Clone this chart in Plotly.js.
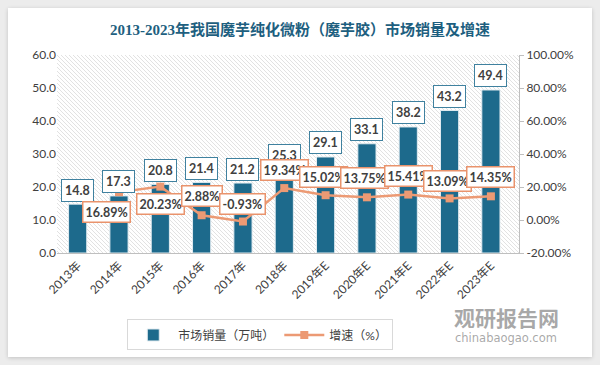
<!DOCTYPE html>
<html>
<head>
<meta charset="utf-8">
<script src="https://cdn.plot.ly/plotly-3.0.1.min.js"></script>
<style>
  html, body { margin: 0; padding: 0; background: #ececec; }
  #wrap { position: relative; width: 600px; height: 365px; overflow: hidden; }
  #card { position: absolute; left: 8px; top: 8px; width: 584px; height: 349px; background: #ffffff;
          box-shadow: 0 1px 4px rgba(0,0,0,0.18); }
  #chart { position: absolute; left: 0; top: 0; width: 600px; height: 365px; }
</style>
</head>
<body>
<div id="wrap">
  <div id="card"></div>
  <div id="chart"></div>
</div>
<script>
// ---- data ----
const years = ['2013年','2014年','2015年','2016年','2017年','2018年','2019年E','2020年E','2021年E','2022年E','2023年E'];
const sales = [14.8, 17.3, 20.8, 21.4, 21.2, 25.3, 29.1, 33.1, 38.2, 43.2, 49.4];
const growthYears = ['2014年','2015年','2016年','2017年','2018年','2019年E','2020年E','2021年E','2022年E','2023年E'];
const growth = [16.89, 20.23, 2.88, -0.93, 19.34, 15.02, 13.75, 15.41, 13.09, 14.35];
const leftTicks = [0, 10, 20, 30, 40, 50, 60];
const rightTicks = [-20, 0, 20, 40, 60, 80, 100];

// ---- label placement (pixels) ----
const growthShiftX = [-12, 0, 0, 0, 0, -2, -2, 0, -2, 0];
const growthShiftY = [-20, -17, 19, 18, 18, 18, 19, 19, 17, 19];

const BAR = '#1d6a8c';
const LINE = '#ec9a74';
const TXT = '#404040';
const FONT = 'Lato, "Noto Sans CJK SC", sans-serif';

const hatch = 'data:image/svg+xml;utf8,' + encodeURIComponent(
  '<svg xmlns="http://www.w3.org/2000/svg" width="462" height="198">' +
  '<defs><pattern id="p" width="4" height="4" patternUnits="userSpaceOnUse">' +
  '<path d="M-1,-1 L5,5" stroke="#e2e2e2" stroke-width="1"/>' +
  '<path d="M3,-1 L5,1 M-1,3 L1,5" stroke="#e2e2e2" stroke-width="1"/>' +
  '</pattern></defs><rect width="462" height="198" fill="url(#p)"/></svg>');

const traces = [
  {
    type: 'bar', x: years, y: sales, name: '市场销量（万吨）',
    marker: { color: BAR, line: { color: '#e3ecf1', width: 1 } },
    width: 0.44, yaxis: 'y', hoverinfo: 'skip'
  },
  {
    type: 'scatter', mode: 'lines+markers', x: growthYears, y: growth, name: '增速（%）',
    line: { color: LINE, width: 2.5 },
    marker: { symbol: 'square', size: 8, color: LINE },
    yaxis: 'y2', hoverinfo: 'skip'
  }
];

const annotations = [];
// watermark (drawn first, underneath)
annotations.push({
  xref: 'paper', yref: 'paper', x: 0.972, y: -0.323, xanchor: 'center', yanchor: 'middle',
  text: '<b>观研报告网</b>', showarrow: false,
  font: { family: '"Noto Sans CJK SC", sans-serif', size: 21, color: 'rgba(110,110,110,0.6)' }
});
annotations.push({
  xref: 'paper', yref: 'paper', x: 0.972, y: -0.429, xanchor: 'center', yanchor: 'middle',
  text: 'chinabaogao.com', showarrow: false,
  font: { family: '"DejaVu Sans", sans-serif', size: 11.5, color: 'rgba(110,110,110,0.6)' }
});
sales.forEach((v, i) => {
  annotations.push({
    x: years[i], y: v, xref: 'x', yref: 'y', text: '<b>' + v.toFixed(1) + '</b>',
    showarrow: false, yanchor: 'middle', yshift: 14,
    font: { family: FONT, size: 12.5, color: TXT },
    bgcolor: '#ffffff', bordercolor: '#3f819f', borderwidth: 1, borderpad: 3
  });
});
growth.forEach((v, i) => {
  annotations.push({
    x: growthYears[i], y: v, xref: 'x', yref: 'y2', text: '<b>' + v.toFixed(2) + '%</b>',
    showarrow: false, yanchor: 'middle', xshift: growthShiftX[i], yshift: growthShiftY[i],
    font: { family: FONT, size: 12.5, color: TXT },
    bgcolor: '#ffffff', bordercolor: '#e9936c', borderwidth: 1.5, borderpad: 2
  });
});

const layout = {
  width: 600, height: 365,
  margin: { l: 57, r: 81, t: 55, b: 112 },
  paper_bgcolor: 'rgba(0,0,0,0)', plot_bgcolor: 'rgba(0,0,0,0)',
  title: {
    text: '<b>2013-2023年我国魔芋纯化微粉（魔芋胶）市场销量及增速</b>',
    x: 0.5, xanchor: 'center', y: 0.918, yanchor: 'middle',
    font: { family: '"Liberation Serif", "Noto Sans CJK SC", serif', size: 15, color: '#1e5f80' }
  },
  images: [{
    source: hatch, xref: 'paper', yref: 'paper', x: 0, y: 1, sizex: 1, sizey: 1,
    xanchor: 'left', yanchor: 'top', sizing: 'stretch', layer: 'below'
  }],
  xaxis: {
    type: 'category', tickangle: -45, showgrid: false,
    showline: true, linecolor: '#bfbfbf', linewidth: 1, ticks: '',
    tickfont: { family: FONT, size: 12, color: TXT }
  },
  yaxis: {
    range: [0, 60], tickvals: leftTicks, ticktext: leftTicks.map(v => v.toFixed(1)),
    showgrid: false, zeroline: false, showline: false, ticks: '',
    tickfont: { family: FONT, size: 12, color: TXT }
  },
  yaxis2: {
    range: [-20, 100], tickvals: rightTicks, ticktext: rightTicks.map(v => v.toFixed(2) + '%'),
    overlaying: 'y', side: 'right', showgrid: false, zeroline: false,
    showline: true, linecolor: '#bfbfbf', ticks: 'outside', ticklen: 4, tickcolor: '#bfbfbf',
    tickfont: { family: FONT, size: 12, color: TXT }
  },
  bargap: 0.56,
  showlegend: true,
  legend: {
    orientation: 'h', x: 0.44, xanchor: 'center', y: -0.414, yanchor: 'middle',
    bordercolor: '#d9d9d9', borderwidth: 1, bgcolor: '#ffffff',
    font: { family: FONT, size: 12, color: TXT }, itemwidth: 40
  },
  annotations: annotations
};

Plotly.newPlot('chart', traces, layout, { staticPlot: true, displayModeBar: false });
</script>
</body>
</html>
